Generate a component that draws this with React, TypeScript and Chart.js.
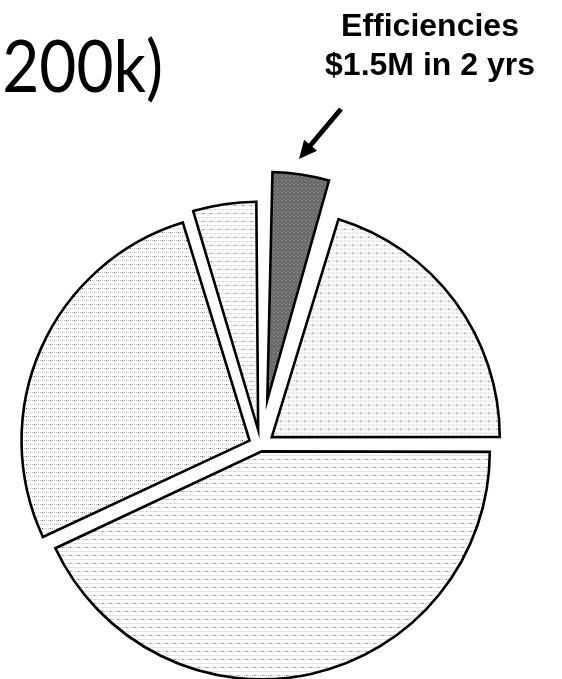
import React, { useEffect, useRef } from "react";
import { Chart, registerables } from "chart.js";

Chart.register(...registerables);

// ---- data (shares, clockwise from 12 o'clock) ----
const categories = ["Efficiencies", "Slice B", "Slice C", "Slice D", "Slice E"];
const shareValues = [17, 73, 155, 98, 17];
const titleFragment = "200k)";
const calloutLines = ["Efficiencies", "$1.5M in 2 yrs"];

// ---- style ----
const explodePx = [46, 14, 6, 12, 16];
const PIE_RADIUS = 228;

function makeLightPattern(): CanvasPattern | string {
  const c = document.createElement("canvas");
  c.width = 8;
  c.height = 8;
  const g = c.getContext("2d");
  if (!g) return "#ececec";
  g.fillStyle = "#ffffff";
  g.fillRect(0, 0, 8, 8);
  const dots: [number, number, string][] = [
    [1, 1, "#a0a0a0"],
    [5, 1, "#b0b0b0"],
    [3, 5, "#a8a8a8"],
    [7, 5, "#b8b8b8"],
    [1, 5, "#c8c8c8"],
    [5, 5, "#303030"],
    [3, 1, "#cccccc"],
    [7, 1, "#d0d0d0"],
  ];
  dots.forEach(([x, y, col]) => {
    g.fillStyle = col;
    g.fillRect(x, y, 1, 1);
  });
  return g.createPattern(c, "repeat") || "#ececec";
}

function makeDarkPattern(): CanvasPattern | string {
  const c = document.createElement("canvas");
  c.width = 4;
  c.height = 4;
  const g = c.getContext("2d");
  if (!g) return "#6c6c6c";
  const cols = [
    "#5a5a5a", "#9a9a9a", "#3c3c3c", "#808080",
    "#888888", "#484848", "#b0b0b0", "#5c5c5c",
    "#404040", "#7c7c7c", "#606060", "#a4a4a4",
    "#949494", "#505050", "#8c8c8c", "#3a3a3a",
  ];
  cols.forEach((col, i) => {
    g.fillStyle = col;
    g.fillRect(i % 4, Math.floor(i / 4), 1, 1);
  });
  return g.createPattern(c, "repeat") || "#6c6c6c";
}

// keeps exploded slices at the common radius (Chart.js grows offset arcs)
const keepRadius = {
  id: "keepRadius",
  beforeDatasetsDraw(chart: any) {
    const meta = chart.getDatasetMeta(0);
    const base = meta.controller.outerRadius;
    meta.data.forEach((arc: any) => {
      const off = ((arc.options && arc.options.offset) || 0) / 4;
      const fix = 1 - Math.sin(Math.min(Math.PI, arc.circumference || 0));
      arc.outerRadius = base - off * fix;
    });
  },
};

export default function App() {
  const ref = useRef<HTMLCanvasElement | null>(null);

  useEffect(() => {
    if (!ref.current) return;
    const light = makeLightPattern();
    const dark = makeDarkPattern();
    const chart = new Chart(ref.current, {
      type: "pie",
      data: {
        labels: categories,
        datasets: [
          {
            data: shareValues,
            backgroundColor: shareValues.map((_, i) => (i === 0 ? dark : light)),
            borderColor: "#000000",
            borderWidth: 2.6,
            borderJoinStyle: "miter",
            offset: explodePx.map((p) => p * 4),
            hoverOffset: 0,
            clip: false,
          } as any,
        ],
      },
      options: {
        responsive: false,
        animation: false,
        events: [],
        radius: PIE_RADIUS,
        layout: { padding: { left: 0, right: 41, top: 212, bottom: 0 } },
        plugins: {
          legend: { display: false },
          tooltip: { enabled: false },
          title: { display: false },
        },
      } as any,
      plugins: [keepRadius],
    });
    return () => chart.destroy();
  }, []);

  // arrow geometry
  const tail = { x: 341, y: 109 };
  const tip = { x: 299, y: 159 };
  const dx = tip.x - tail.x;
  const dy = tip.y - tail.y;
  const len = Math.hypot(dx, dy);
  const ux = dx / len;
  const uy = dy / len;
  const headLen = 18;
  const headHalf = 8.5;
  const bx = tip.x - ux * headLen;
  const by = tip.y - uy * headLen;
  const nx = -uy;
  const ny = ux;
  const head = `${tip.x},${tip.y} ${bx + nx * headHalf},${by + ny * headHalf} ${bx - nx * headHalf},${by - ny * headHalf}`;

  return (
    <div
      style={{
        position: "absolute",
        left: 0,
        top: 0,
        width: 562,
        height: 679,
        overflow: "hidden",
        background: "#ffffff",
      }}
    >
      <canvas
        ref={ref}
        width={562}
        height={679}
        style={{ position: "absolute", left: 0, top: 0, width: 562, height: 679 }}
      />
      <div
        style={{
          position: "absolute",
          left: -124,
          width: 287,
          top: 29,
          textAlign: "right",
          fontFamily: "Lato, 'Open Sans', sans-serif",
          fontSize: 71,
          lineHeight: "71px",
          color: "#000",
          transform: "scaleX(0.9)",
          transformOrigin: "right center",
          whiteSpace: "nowrap",
        }}
      >
        {titleFragment}
      </div>
      <div
        style={{
          position: "absolute",
          left: 310,
          width: 240,
          top: 6,
          textAlign: "center",
          fontFamily: "'Liberation Sans', Arial, sans-serif",
          fontWeight: "bold",
          fontSize: 32,
          lineHeight: "39px",
          color: "#000",
          whiteSpace: "nowrap",
        }}
      >
        {calloutLines.map((t) => (
          <div key={t}>{t}</div>
        ))}
      </div>
      <svg
        width={562}
        height={679}
        style={{ position: "absolute", left: 0, top: 0, pointerEvents: "none" }}
      >
        <line x1={tail.x} y1={tail.y} x2={bx + ux * 2} y2={by + uy * 2} stroke="#000" strokeWidth={5} />
        <polygon points={head} fill="#000" />
      </svg>
    </div>
  );
}
